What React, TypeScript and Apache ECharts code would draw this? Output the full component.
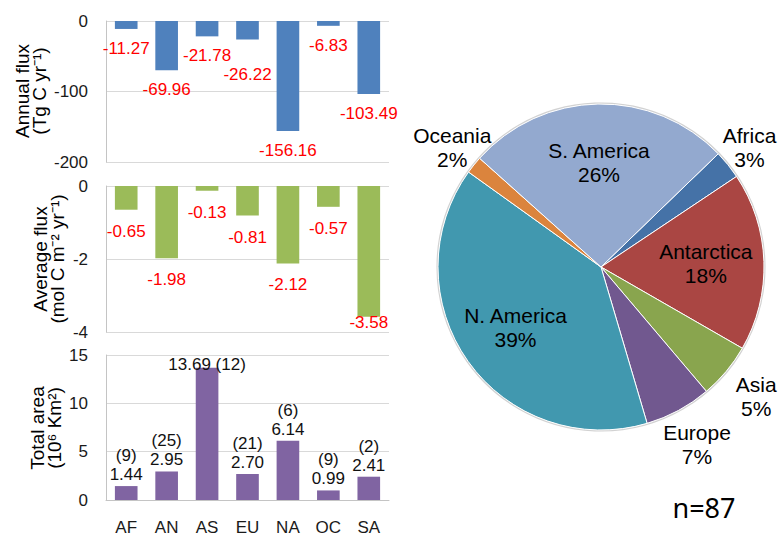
import { useEffect, useRef } from "react";
import * as echarts from "echarts";

// Regions (bar axis codes and pie slice names share the same order)
const regionCodes = ["AF", "AN", "AS", "EU", "NA", "OC", "SA"];
const regionNames = ["Africa", "Antarctica", "Asia", "Europe", "N. America", "Oceania", "S. America"];

// Annual flux, Tg C yr-1
const annualFlux = [-11.27, -69.96, -21.78, -26.22, -156.16, -6.83, -103.49];
// Average flux, mol C m-2 yr-1
const averageFlux = [-0.65, -1.98, -0.13, -0.81, -2.12, -0.57, -3.58];
// Total area, 10^6 km2
const totalArea = [1.44, 2.95, 13.69, 2.7, 6.14, 0.99, 2.41];
// Number of sites per region
const siteCounts = [9, 25, 12, 21, 6, 9, 2];
const sampleSize = 87;

// Value axis ranges
const annualRange = { min: -200, max: 0, interval: 100 };
const averageRange = { min: -4, max: 0, interval: 2 };
const areaRange = { min: 0, max: 15, interval: 5 };

const FONT = '"Liberation Sans", Arial, Helvetica, sans-serif';
const PLOT_LEFT = 106;
const PLOT_WIDTH = 283;
const panels = [
  { top: 21, height: 141 },
  { top: 186, height: 146 },
  { top: 355, height: 147 },
];
const PIE_CENTER: [number, number] = [601, 267];
const PIE_R = 163;
const pieColors = ["#4572A7", "#AA4643", "#89A54E", "#71588F", "#4198AF", "#DB843D", "#93A9CF"];

type Box = { x: number; y: number; width: number; height: number };

// Bar labels: push a label below a neighbour it collides with, and keep it inside the plot
const barLabelPlacer = (top: number, bottom: number) => {
  let placed: Box[] = [];
  return (params: any) => {
    if (params.dataIndex === 0) placed = [];
    const r: Box = params.labelRect;
    let dy = 0;
    for (const q of placed) {
      const xOverlap = r.x < q.x + q.width && q.x < r.x + r.width;
      const yOverlap = r.y + dy < q.y + q.height && q.y < r.y + dy + r.height;
      if (xOverlap && yOverlap) dy = q.y + q.height - r.y;
    }
    if (r.y + dy + r.height > bottom) dy = bottom - (r.y + r.height);
    if (r.y + dy < top) dy = top - r.y;
    placed.push({ x: r.x, y: r.y + dy, width: r.width, height: r.height });
    return { dy };
  };
};

// Outer pie labels: set each label centre at a fixed distance along its slice direction
const outerPieLabel = (params: any) => {
  const r: Box = params.labelRect;
  if (!params.text || !r.width) return {};
  const cx = r.x + r.width / 2;
  const cy = r.y + r.height / 2;
  const ux = cx - PIE_CENTER[0];
  const uy = cy - PIE_CENTER[1];
  const len = Math.hypot(ux, uy) || 1;
  const d = uy < 0 ? PIE_R * 1.17 : PIE_R * 1.24;
  return {
    dx: PIE_CENTER[0] + (ux / len) * d - cx,
    dy: PIE_CENTER[1] + (uy / len) * d - cy,
  };
};

const valueAxis = (gridIndex: number, range: { min: number; max: number; interval: number }) => ({
  type: "value" as const,
  gridIndex,
  min: range.min,
  max: range.max,
  interval: range.interval,
  axisLine: { show: true, lineStyle: { color: "#c4c4c4", width: 1 } },
  axisTick: { show: false },
  axisLabel: { color: "#1a1a1a", fontSize: 17, fontFamily: FONT, margin: 18 },
  splitLine: { show: true, lineStyle: { color: "#d9d9d9", width: 1 } },
});

const categoryAxis = (gridIndex: number, showLabels: boolean) => ({
  type: "category" as const,
  gridIndex,
  data: regionCodes,
  axisLine: { show: showLabels, lineStyle: { color: "#c4c4c4", width: 1 } },
  axisTick: { show: false },
  axisLabel: { show: showLabels, color: "#1a1a1a", fontSize: 17, fontFamily: FONT, margin: 19 },
  splitLine: { show: false },
});

const axisTitle = (x: number, y: number, text: string) => ({
  type: "text",
  x,
  y,
  rotation: Math.PI / 2,
  silent: true,
  style: {
    text,
    fill: "#000",
    font: `19px ${FONT}`,
    lineHeight: 17,
    align: "center",
    verticalAlign: "middle",
  },
});

export default function App() {
  const ref = useRef<HTMLDivElement>(null);

  useEffect(() => {
    if (!ref.current) return;
    const chart = echarts.init(ref.current, undefined, { renderer: "svg" });

    const pieData = regionNames.map((name, i) => ({ name, value: Math.abs(annualFlux[i]) }));
    const areaPxPerUnit = panels[2].height / (areaRange.max - areaRange.min);
    const labelLine = 19;

    const pieLabelSeries = (radius: number, inside: boolean) => ({
      type: "pie" as const,
      center: PIE_CENTER,
      radius,
      startAngle: 44,
      clockwise: true,
      percentPrecision: 0,
      silent: true,
      avoidLabelOverlap: false,
      z: 4,
      data: pieData,
      itemStyle: { color: "rgba(0,0,0,0)", borderWidth: 0 },
      emphasis: { disabled: true },
      labelLine: { show: false },
      labelLayout: inside ? undefined : outerPieLabel,
      label: {
        show: true,
        position: "inside" as const,
        color: "#000",
        fontSize: 21,
        lineHeight: 24,
        fontFamily: FONT,
        formatter: (p: any) =>
          (inside ? p.percent >= 10 : p.percent < 10) ? `${p.name}\n${p.percent}%` : "",
      },
    });

    chart.setOption({
      animation: false,
      backgroundColor: "#fff",
      grid: panels.map((p) => ({ left: PLOT_LEFT, top: p.top, width: PLOT_WIDTH, height: p.height })),
      xAxis: [categoryAxis(0, false), categoryAxis(1, false), categoryAxis(2, true)],
      yAxis: [valueAxis(0, annualRange), valueAxis(1, averageRange), valueAxis(2, areaRange)],
      series: [
        {
          type: "bar",
          xAxisIndex: 0,
          yAxisIndex: 0,
          data: annualFlux,
          barWidth: "56%",
          itemStyle: { color: "#4F81BD" },
          label: {
            show: true,
            position: "bottom",
            distance: 10,
            color: "#FF0000",
            fontSize: 17,
            lineHeight: labelLine,
            fontFamily: FONT,
            formatter: (p: any) => Number(p.value).toFixed(2),
          },
          labelLayout: barLabelPlacer(panels[0].top, panels[0].top + panels[0].height),
        },
        {
          type: "bar",
          xAxisIndex: 1,
          yAxisIndex: 1,
          data: averageFlux,
          barWidth: "56%",
          itemStyle: { color: "#9BBB59" },
          label: {
            show: true,
            position: "bottom",
            distance: 12,
            color: "#FF0000",
            fontSize: 17,
            lineHeight: labelLine,
            fontFamily: FONT,
            formatter: (p: any) => Number(p.value).toFixed(2),
          },
          labelLayout: barLabelPlacer(panels[1].top, panels[1].top + panels[1].height),
        },
        {
          type: "bar",
          xAxisIndex: 2,
          yAxisIndex: 2,
          data: totalArea,
          barWidth: "56%",
          itemStyle: { color: "#8064A2" },
          label: {
            show: true,
            position: "top",
            distance: 2,
            color: "#111",
            fontSize: 17,
            lineHeight: labelLine,
            fontFamily: FONT,
            align: "center",
            formatter: (p: any) => {
              const v = Number(p.value);
              const n = siteCounts[p.dataIndex];
              const room = panels[2].height - (v - areaRange.min) * areaPxPerUnit;
              return room >= 2 * labelLine
                ? `(${n})\n${v.toFixed(2)}`
                : `${v.toFixed(2)} (${n})`;
            },
          },
          labelLayout: barLabelPlacer(panels[2].top, panels[2].top + panels[2].height),
        },
        {
          type: "pie",
          center: PIE_CENTER,
          radius: PIE_R,
          startAngle: 44,
          clockwise: true,
          percentPrecision: 0,
          silent: true,
          z: 3,
          data: pieData.map((d, i) => ({ ...d, itemStyle: { color: pieColors[i] } })),
          itemStyle: { borderColor: "#ffffff", borderWidth: 1 },
          emphasis: { disabled: true },
          label: { show: false },
          labelLine: { show: false },
        },
        pieLabelSeries(PIE_R * 1.25, true),
        pieLabelSeries(PIE_R * 2.4, false),
      ],
      graphic: [
        {
          type: "circle",
          z: 1,
          silent: true,
          shape: { cx: PIE_CENTER[0], cy: PIE_CENTER[1], r: PIE_R + 0.8 },
          style: { fill: "none", stroke: "#d2d2d2", lineWidth: 1.5 },
        },
        axisTitle(31, 91, "Annual flux\n(Tg C yr\u207B\u00B9)"),
        axisTitle(48.5, 259, "Average flux\n(mol C m\u207B\u00B2 yr\u207B\u00B9)"),
        axisTitle(45.5, 428, "Total area\n(10\u2076 Km\u00B2)"),
        {
          type: "text",
          x: 704,
          y: 507,
          silent: true,
          style: {
            text: `n=${sampleSize}`,
            fill: "#000",
            font: `27px "Noto Sans", "Open Sans", sans-serif`,
            align: "center",
            verticalAlign: "middle",
          },
        },
      ],
    });

    return () => chart.dispose();
  }, []);

  return (
    <div
      ref={ref}
      style={{ position: "fixed", left: 0, top: 0, width: 780, height: 536, background: "#fff" }}
    />
  );
}
